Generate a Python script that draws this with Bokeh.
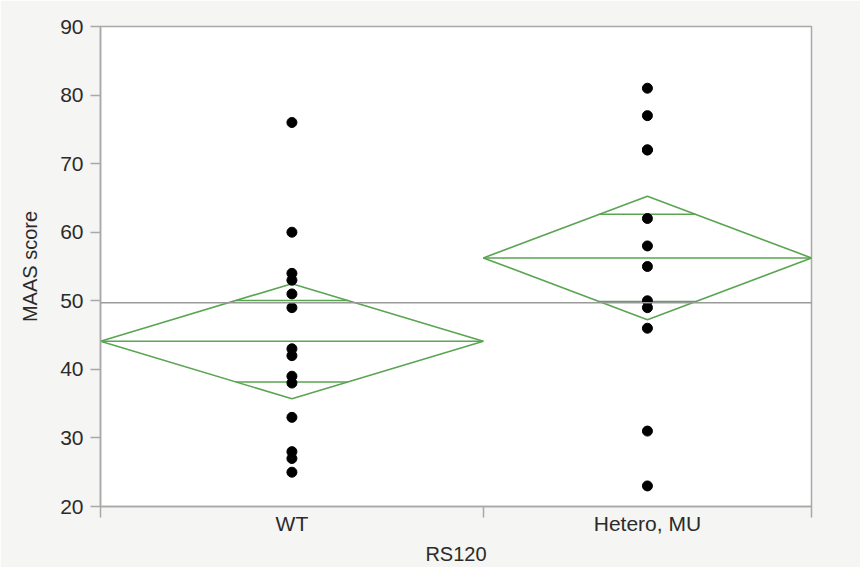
from bokeh.plotting import figure
from bokeh.models import Range1d, FixedTicker, Span
from bokeh.embed import file_html
from bokeh.resources import INLINE
import math

# ---- data ----
groups = ["WT", "Hetero, MU"]
group_n = [14, 12]
group_mean = [44.1, 56.25]
group_ci = [8.4, 9.0]          # half-height of the means diamond (95% CI)
grand_mean = 49.7

wt_scores = [76, 60, 54, 53, 51, 49, 43, 42, 39, 38, 33, 28, 27, 25]
mu_scores = [81, 77, 72, 72, 62, 58, 55, 50, 49, 46, 31, 23]
scores = [wt_scores, mu_scores]

y_ticks = [20, 30, 40, 50, 60, 70, 80, 90]

# ---- styles ----
BG = "#f5f5f3"
AXIS = "#a9a9a9"
TXT = "#2b2b2b"
GREEN = "#5aa552"
FONT = "Liberation Sans"

# group bounds on a continuous x scale, widths proportional to n
bounds = [0]
for n in group_n:
    bounds.append(bounds[-1] + n)
centers = [(bounds[i] + bounds[i + 1]) / 2 for i in range(len(groups))]

p = figure(frame_width=711, frame_height=480,
           x_range=Range1d(bounds[0], bounds[-1]), y_range=Range1d(y_ticks[0], y_ticks[-1]),
           output_backend="svg", toolbar_location=None,
           min_border_left=100, min_border_top=26, min_border_right=49, min_border_bottom=58)

p.background_fill_color = "white"
p.border_fill_color = BG
p.outline_line_color = AXIS
p.outline_line_width = 1.5
p.xgrid.visible = False
p.ygrid.visible = False

# grand mean line
p.add_layout(Span(location=grand_mean, dimension="width", line_color="#9a9a9a", line_width=1.5))

# means diamonds
for i in range(len(groups)):
    x0, x1, xc = bounds[i], bounds[i + 1], centers[i]
    m, c = group_mean[i], group_ci[i]
    p.patch([x0, xc, x1, xc], [m, m + c, m, m - c],
            fill_alpha=0, line_color=GREEN, line_width=1.6)
    p.line([x0, x1], [m, m], line_color=GREEN, line_width=1.6)
    d = c / math.sqrt(2)
    hw = (x1 - x0) / 2 * (1 - d / c)
    for yy in (m + d, m - d):
        p.line([xc - hw, xc + hw], [yy, yy], line_color=GREEN, line_width=1.6)

# points
for i in range(len(groups)):
    p.scatter([centers[i]] * len(scores[i]), scores[i], size=10,
              fill_color="black", line_color="black")

# axes
p.xaxis.ticker = FixedTicker(ticks=centers, minor_ticks=bounds)
p.xaxis.major_label_overrides = {c: g for c, g in zip(centers, groups)}
p.xaxis.major_tick_out = 0
p.xaxis.major_tick_in = 0
p.xaxis.minor_tick_out = 11
p.xaxis.minor_tick_in = 0
p.xaxis.minor_tick_line_color = AXIS
p.xaxis.minor_tick_line_width = 1.5
p.xaxis.major_label_standoff = -6
p.xaxis.axis_label = "RS120"
p.xaxis.axis_label_standoff = 5

p.yaxis.ticker = FixedTicker(ticks=y_ticks, minor_ticks=[])
p.yaxis.major_tick_out = 10
p.yaxis.major_tick_in = 0
p.yaxis.major_label_standoff = 7
p.yaxis.axis_label = "MAAS score"
p.yaxis.axis_label_standoff = 16

for ax in (p.xaxis[0], p.yaxis[0]):
    ax.axis_line_color = AXIS
    ax.axis_line_width = 1.5
    ax.major_tick_line_color = AXIS
    ax.major_tick_line_width = 1.5
    ax.major_label_text_font = FONT
    ax.major_label_text_font_size = "21px"
    ax.major_label_text_color = TXT
    ax.axis_label_text_font = FONT
    ax.axis_label_text_font_size = "20px"
    ax.axis_label_text_font_style = "normal"
    ax.axis_label_text_color = TXT

open("out.html", "w").write(file_html(p, INLINE))
